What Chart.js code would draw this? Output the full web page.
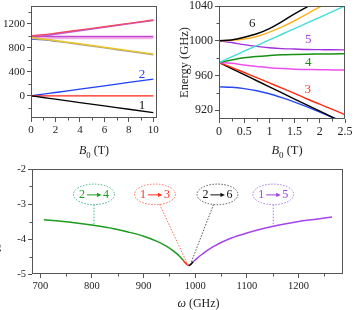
<!DOCTYPE html>
<html><head><meta charset="utf-8">
<script src="https://cdn.jsdelivr.net/npm/chart.js@4"></script>
<style>
html,body{margin:0;padding:0;background:#fff;overflow:hidden;width:354px;height:310px;position:relative}
.box{position:absolute}
</style></head><body>
<div class="box" style="left:-24px;top:0;width:184px;height:165px"><canvas id="c1"></canvas></div>
<div class="box" style="left:175px;top:0;width:179px;height:165px"><canvas id="c2"></canvas></div>
<div class="box" style="left:-24px;top:160px;width:371px;height:150px"><canvas id="c3"></canvas></div>
<script>
// ---------- data: top-left panel (B0 0..10 T) ----------
const tlB        = [0, 1, 2, 4, 6, 8, 10];
const tlLevel1   = [0, -28, -56, -112, -168, -224, -280];
const tlLevelRed = [0, 0, 0, 0, 0, 0, 0];
const tlLevel2   = [0, 28, 56, 112, 168, 224, 280];
const tlUpRed    = [1000, 1020, 1046, 1100, 1154, 1210, 1266];
const tlUpPurple = [975, 1000, 1030, 1088, 1145, 1203, 1260];
const tlFlatViol = [1000, 993, 991, 990, 990, 990, 990];
const tlFlatPink = [975, 969, 967, 966, 966, 966, 966];
const tlDownYel  = [975, 950, 923, 869, 813, 755, 697];
const tlDownGray = [960, 940, 912, 857, 800, 742, 684];
const tlBShort   = [0, 1, 2];
const tlBlueLow  = [947, 938, 914];

// ---------- data: top-right panel (B0 0..2.5 T) ----------
const trB      = [0, 0.25, 0.5, 0.75, 1, 1.25, 1.5, 1.75, 2, 2.25, 2.5];
const trBlack6 = [1000, 1001, 1004, 1008, 1014, 1022, 1031, 1039, 1047, 1055, 1063];
const trOrange = [1000, 1000.5, 1002, 1005, 1010, 1016, 1023, 1031, 1039, 1047, 1055];
const trCyan   = [975, 981.5, 988, 994.5, 1001, 1007.5, 1014, 1020.5, 1027, 1033.5, 1040];
const trPurp5  = [1000, 998, 995.5, 993.5, 992, 991, 990.5, 990, 989.8, 989.6, 989.5];
const trGreen4 = [975, 978, 980.5, 982, 983, 983.8, 984.2, 984.5, 984.7, 984.9, 985];
const trMagent = [975, 974, 972, 970.5, 969, 968, 967.3, 967, 966.7, 966.5, 966.3];
const trRed3   = [975, 969.5, 963.5, 957.5, 951.5, 945.5, 939.5, 933, 927, 921, 915];
const trBlackL = [975, 968, 961, 954, 947, 940, 933, 926, 919, 912, 905];
const trBlue   = [947, 946.5, 945, 942.5, 939, 934.5, 929.5, 924, 918, 912, 906];

// ---------- data: bottom panel (omega in GHz) ----------
const gW = [707, 740, 770, 803, 840, 870, 900, 925, 945, 960, 970, 976];
const gV = [-3.45, -3.49, -3.54, -3.61, -3.70, -3.80, -3.92, -4.06, -4.21, -4.37, -4.50, -4.60];
const rW = [976, 980, 983.5, 987];
const rV = [-4.60, -4.67, -4.72, -4.76];
const kW = [987, 990, 993, 996];
const kV = [-4.76, -4.74, -4.70, -4.65];
const pW = [996, 1003, 1012, 1022, 1035, 1050, 1070, 1100, 1130, 1160, 1200, 1230, 1265];
const pV = [-4.65, -4.56, -4.45, -4.34, -4.22, -4.10, -3.97, -3.83, -3.71, -3.61, -3.50, -3.44, -3.37];

// ---------- tick labels ----------
const tlXMajor = [0, 2, 4, 6, 8, 10], tlXMinor = [1, 3, 5, 7, 9];
const tlYMajor = [0, 400, 800, 1200], tlYMinor = [-200, 200, 600, 1000, 1400];
const trXMajor = [0, 0.5, 1, 1.5, 2, 2.5], trXMinor = [0.25, 0.75, 1.25, 1.75, 2.25];
const trYMajor = [920, 960, 1000, 1040], trYMinor = [940, 980, 1020];
const bXMajor = [700, 800, 900, 1000, 1100, 1200], bXMinor = [750, 850, 950, 1050, 1150, 1250];
const bYMajor = [-5, -4, -3, -2], bYMinor = [-4.5, -3.5, -2.5];

const F = '"Liberation Serif", "DejaVu Serif", serif';
const AX = '#555';

function ser(xs, ys, color, w, extra) {
  return Object.assign({
    data: xs.map((x, i) => ({x: x, y: ys[i]})),
    borderColor: color, backgroundColor: color, borderWidth: w || 1.4,
    pointRadius: 0, pointHoverRadius: 0, showLine: true, fill: false,
    cubicInterpolationMode: 'monotone'
  }, extra || {});
}

function axis(min, max, majors, size, fixed) {
  return {
    type: 'linear', min: min, max: max,
    afterBuildTicks: s => { s.ticks = majors.map(v => ({value: v})); },
    afterFit: s => {
      if (s.isHorizontal()) s.height = fixed; else s.width = fixed;
      s.paddingLeft = s.paddingRight = s.paddingTop = s.paddingBottom = 0;
    },
    ticks: {font: {family: F, size: size}, color: '#222', padding: 2, autoSkip: false,
            maxRotation: 0, minRotation: 0, callback: v => String(v)},
    grid: {display: true, drawOnChartArea: false, drawTicks: true, tickLength: 4,
           color: AX, tickColor: AX, tickWidth: 1},
    border: {display: false}
  };
}

function rich(ctx, parts, x, y, size, align) {
  const items = parts.map(p => {
    const f = p[1] === 'i' ? 'italic ' + size + 'px ' + F : p[1] === 's' ? (size * 0.72) + 'px ' + F : size + 'px ' + F;
    ctx.font = f;
    return {t: p[0], f: f, w: ctx.measureText(p[0]).width, sub: p[1] === 's'};
  });
  const total = items.reduce((a, b) => a + b.w, 0);
  let cx = align === 'center' ? x - total / 2 : x;
  items.forEach(it => { ctx.font = it.f; ctx.fillText(it.t, cx, y + (it.sub ? size * 0.3 : 0)); cx += it.w; });
}

const deco = {
  id: 'deco',
  afterDatasetsDraw(chart, args, o) {
    const ctx = chart.ctx, a = chart.chartArea, xs = chart.scales.x, ys = chart.scales.y;
    ctx.save();
    // frame
    ctx.strokeStyle = AX; ctx.lineWidth = 1; ctx.setLineDash([]);
    ctx.strokeRect(Math.round(a.left) + 0.5, Math.round(a.top) + 0.5,
                   Math.round(a.right) - Math.round(a.left) - 1, Math.round(a.bottom) - Math.round(a.top) - 1);
    // minor ticks
    ctx.beginPath();
    (o.xMinor || []).forEach(v => { const px = Math.round(xs.getPixelForValue(v)) + 0.5;
      ctx.moveTo(px, Math.round(a.bottom)); ctx.lineTo(px, Math.round(a.bottom) + 2.5); });
    (o.yMinor || []).forEach(v => { const py = Math.round(ys.getPixelForValue(v)) + 0.5;
      ctx.moveTo(Math.round(a.left), py); ctx.lineTo(Math.round(a.left) - 2.5, py); });
    ctx.stroke();
    // in-plot labels
    ctx.textAlign = 'center'; ctx.textBaseline = 'middle';
    (o.labels || []).forEach(l => {
      ctx.fillStyle = l.color; ctx.font = (l.size || 13) + 'px ' + F;
      ctx.fillText(l.text, xs.getPixelForValue(l.x), ys.getPixelForValue(l.y));
    });
    // callouts
    (o.callouts || []).forEach(c => {
      const cx = xs.getPixelForValue(c.x), cy = ys.getPixelForValue(c.y);
      const tx = xs.getPixelForValue(c.tx), ty = ys.getPixelForValue(c.ty);
      ctx.save();
      ctx.setLineDash([1.5, 1.5]); ctx.lineWidth = 1; ctx.strokeStyle = c.stroke;
      ctx.beginPath(); ctx.ellipse(cx, cy, c.rx, c.ry, 0, 0, Math.PI * 2); ctx.stroke();
      const dx = tx - cx, dy = ty - cy;
      const t = 1 / Math.sqrt((dx / c.rx) ** 2 + (dy / c.ry) ** 2);
      ctx.beginPath(); ctx.moveTo(cx + dx * t, cy + dy * t); ctx.lineTo(tx, ty); ctx.stroke();
      ctx.setLineDash([]);
      ctx.fillStyle = c.text; ctx.strokeStyle = c.text;
      ctx.font = '12px ' + F; ctx.textAlign = 'center'; ctx.textBaseline = 'middle';
      ctx.fillText(c.from, cx - 12, cy + 0.5); ctx.fillText(c.to, cx + 12, cy + 0.5);
      ctx.beginPath(); ctx.moveTo(cx - 7, cy + 0.5); ctx.lineTo(cx + 4, cy + 0.5); ctx.stroke();
      ctx.beginPath(); ctx.moveTo(cx + 7.5, cy + 0.5); ctx.lineTo(cx + 3, cy - 1.7); ctx.lineTo(cx + 3, cy + 2.7); ctx.closePath(); ctx.fill();
      ctx.restore();
    });
    // axis titles
    ctx.fillStyle = '#222'; ctx.textBaseline = 'alphabetic'; ctx.textAlign = 'left';
    if (o.xTitle) rich(ctx, o.xTitle, (a.left + a.right) / 2 + (o.xTitleDX || 0), a.bottom + o.xTitleDY, o.titleSize || 12, 'center');
    if (o.yTitle) {
      ctx.save();
      ctx.translate(o.yTitleX, o.yTitleY != null ? o.yTitleY : (a.top + a.bottom) / 2);
      ctx.rotate(-Math.PI / 2);
      rich(ctx, o.yTitle, 0, 0, o.titleSize || 12, o.yTitleAlign || 'center');
      ctx.restore();
    }
    ctx.restore();
  }
};

const base = {
  responsive: true, maintainAspectRatio: false, animation: false, devicePixelRatio: 1,
  events: [],
  plugins: {legend: {display: false}, tooltip: {enabled: false}}
};

// ---------- chart 1: top-left ----------
new Chart(document.getElementById('c1'), {
  type: 'scatter',
  data: {datasets: [
    ser(tlB, tlUpRed, '#f24a64', 1.4),
    ser(tlB, tlFlatViol, '#c44ad4', 1.4),
    ser(tlB, tlDownYel, '#e8c62c', 1.5),
    ser(tlB, tlUpPurple, '#b266e6', 1.6),
    ser(tlB, tlFlatPink, '#f2b4e6', 2.5),
    ser(tlB, tlDownGray, '#a89c8c', 1.4),
    ser(tlBShort, tlBlueLow, '#2f52f0', 1.3),
    ser(tlB, tlLevel1, '#000000', 1.3),
    ser(tlB, tlLevelRed, '#ff2414', 1.4),
    ser(tlB, tlLevel2, '#2040ff', 1.3)
  ]},
  options: Object.assign({}, base, {
    layout: {padding: {top: 6, right: 3, left: 0, bottom: 0}},
    scales: {x: axis(0, 10.3, tlXMajor, 11, 47), y: axis(-370, 1500, tlYMajor, 11, 55)},
    plugins: Object.assign({}, base.plugins, {deco: {
      xMinor: tlXMinor, yMinor: tlYMinor,
      labels: [{text: '2', x: 9.08, y: 354, color: '#2040ff'}, {text: '1', x: 9.08, y: -161, color: '#111'}],
      xTitle: [['B', 'i'], ['0', 's'], [' (T)', 'n']], xTitleDY: 36,
      yTitle: [['Energy (GHz)', 'n']], yTitleX: 20
    }})
  }),
  plugins: [deco]
});

// ---------- chart 2: top-right ----------
new Chart(document.getElementById('c2'), {
  type: 'scatter',
  data: {datasets: [
    ser(trB, trBlack6, '#000000', 1.5),
    ser(trB, trOrange, '#ffb020', 1.5),
    ser(trB, trCyan, '#40dcd8', 1.4),
    ser(trB, trPurp5, '#a030e0', 1.4),
    ser(trB, trGreen4, '#189018', 1.5),
    ser(trB, trMagent, '#ee50ee', 1.5),
    ser(trB, trRed3, '#ff2a10', 1.4),
    ser(trB, trBlackL, '#000000', 1.4),
    ser(trB, trBlue, '#2a48f0', 1.4)
  ]},
  options: Object.assign({}, base, {
    layout: {padding: {top: 6, right: 9, left: 0, bottom: 0}},
    scales: {x: axis(0, 2.5, trXMajor, 12, 46), y: axis(910, 1040, trYMajor, 12, 44)},
    plugins: Object.assign({}, base.plugins, {deco: {
      xMinor: trXMinor, yMinor: trYMinor,
      labels: [
        {text: '6', x: 0.66, y: 1019.4, color: '#222'},
        {text: '5', x: 1.77, y: 1001.8, color: '#a040e0'},
        {text: '4', x: 1.77, y: 975.1, color: '#189018'},
        {text: '3', x: 1.76, y: 943.7, color: '#ff3a20'}
      ],
      xTitle: [['B', 'i'], ['0', 's'], [' (T)', 'n']], xTitleDY: 35, xTitleDX: 5,
      yTitle: [['Energy (GHz)', 'n']], yTitleX: 13, titleSize: 12.5
    }})
  }),
  plugins: [deco]
});

// ---------- chart 3: bottom ----------
new Chart(document.getElementById('c3'), {
  type: 'scatter',
  data: {datasets: [
    ser(kW, kV, '#000000', 1.6),
    ser(rW, rV, '#ff3020', 1.6),
    ser(gW, gV, '#1c9c1c', 1.5),
    ser(pW, pV, '#a444ea', 1.5)
  ]},
  options: Object.assign({}, base, {
    layout: {padding: {top: 9, right: 4, left: 0, bottom: 0}},
    scales: {x: axis(684, 1286, bXMajor, 10.5, 36), y: axis(-5, -2, bYMajor, 10.5, 56)},
    plugins: Object.assign({}, base.plugins, {deco: {
      xMinor: bXMinor, yMinor: bYMinor,
      callouts: [
        {from: '2', to: '4', x: 804, y: -2.725, tx: 804, ty: -3.61, rx: 20.5, ry: 10.3, stroke: '#3cb48a', text: '#1c9c1c'},
        {from: '1', to: '3', x: 922, y: -2.725, tx: 986, ty: -4.75, rx: 20.5, ry: 10.3, stroke: '#ff6a50', text: '#ff3020'},
        {from: '2', to: '6', x: 1043, y: -2.725, tx: 991, ty: -4.71, rx: 20.5, ry: 10.3, stroke: '#555555', text: '#111'},
        {from: '1', to: '5', x: 1151, y: -2.725, tx: 1151, ty: -3.61, rx: 20.5, ry: 10.3, stroke: '#a878e6', text: '#a040e0'}
      ],
      xTitle: [['ω', 'i'], [' (GHz)', 'n']], xTitleDY: 33, xTitleDX: 11,
      yTitle: [['log', 'n'], ['10', 's'], [' Γ (GHz)', 'n']], yTitleX: 21, yTitleY: 108, yTitleAlign: 'left'
    }})
  }),
  plugins: [deco]
});
</script>
</body></html>
